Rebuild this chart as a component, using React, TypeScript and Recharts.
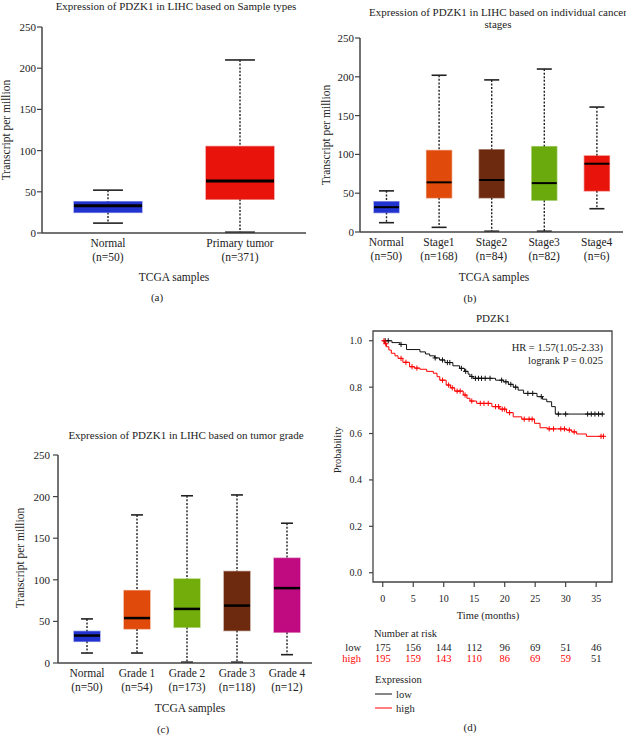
import React from "react";
import { BarChart, Bar, XAxis, YAxis, ComposedChart, Line, Scatter, ReferenceArea } from "recharts";

const FONT = '"Liberation Serif", "DejaVu Serif", serif';
const INK = "#222";

// (a) sample types
const typeCats = ["Normal", "Primary tumor"];
const typeN = [50, 371];
const typeMin = [12, 1];
const typeQ1 = [25, 41];
const typeMed = [33, 63];
const typeQ3 = [38, 105];
const typeMax = [52, 210];
const typeColors = ["#2233cf", "#e8140c"];

// (b) cancer stages
const stageCats = ["Normal", "Stage1", "Stage2", "Stage3", "Stage4"];
const stageN = [50, 168, 84, 82, 6];
const stageMin = [12, 6, 1, 1, 30];
const stageQ1 = [25, 44, 44, 41, 53];
const stageMed = [32, 64, 67, 63, 88];
const stageQ3 = [39, 105, 106, 110, 98];
const stageMax = [53, 202, 196, 210, 161];
const stageColors = ["#2233cf", "#e04a0a", "#6e2a0e", "#6aaa0c", "#e8140c"];

// (c) tumor grade
const gradeCats = ["Normal", "Grade 1", "Grade 2", "Grade 3", "Grade 4"];
const gradeN = [50, 54, 173, 118, 12];
const gradeMin = [12, 12, 1, 1, 10];
const gradeQ1 = [26, 41, 43, 39, 37];
const gradeMed = [33, 54, 65, 69, 90];
const gradeQ3 = [38, 87, 101, 110, 126];
const gradeMax = [53, 178, 201, 202, 168];
const gradeColors = ["#2233cf", "#e04a0a", "#72ad0c", "#6e2a0e", "#c00a80"];

const tpmTicks = [0, 50, 100, 150, 200, 250];

// (d) Kaplan-Meier, PDZK1
const lowTimes = [0, 1.5, 2.8, 3.9, 6.1, 7.0, 7.7, 8.5, 9.3, 10.2, 11.5, 12.6, 13.4, 14.0, 14.3, 14.8, 18.5, 19.8, 20.6, 21.4, 22.2, 23.1, 25.3, 26.2, 26.9, 27.7, 28.3, 36.2];
const lowSurv = [1.0, 0.992, 0.984, 0.962, 0.952, 0.943, 0.935, 0.926, 0.917, 0.906, 0.892, 0.881, 0.868, 0.856, 0.846, 0.838, 0.83, 0.823, 0.812, 0.8, 0.787, 0.773, 0.759, 0.748, 0.737, 0.716, 0.684, 0.684];
const highTimes = [0, 0.3, 0.6, 1.0, 1.4, 2.0, 2.5, 3.3, 4.4, 5.2, 6.1, 7.2, 8.3, 8.9, 9.35, 10.4, 11.1, 11.8, 13.2, 13.8, 14.3, 15.4, 17.9, 19.2, 20.3, 21.4, 22.8, 24.9, 25.8, 27.0, 30.1, 31.0, 31.8, 33.4, 36.3];
const highSurv = [1.0, 0.987, 0.974, 0.96, 0.946, 0.935, 0.924, 0.907, 0.888, 0.882, 0.877, 0.868, 0.86, 0.845, 0.83, 0.809, 0.797, 0.783, 0.766, 0.752, 0.74, 0.73, 0.716, 0.705, 0.69, 0.672, 0.662, 0.644, 0.625, 0.62, 0.615, 0.607, 0.598, 0.588, 0.588];
const lowCensor = [0.4, 0.9, 3.0, 8.6, 9.8, 10.6, 11.0, 12.9, 13.6, 14.6, 15.2, 15.7, 16.2, 16.8, 17.6, 19.5, 20.2, 21.0, 21.8, 23.8, 24.6, 26.0, 28.8, 30.0, 33.6, 34.2, 34.8, 35.4, 36.0];
const highCensor = [0.2, 0.5, 3.0, 3.8, 4.8, 5.6, 9.8, 10.8, 11.4, 12.2, 12.7, 13.5, 14.6, 16.0, 16.6, 17.3, 18.5, 19.0, 19.6, 20.0, 20.8, 23.2, 24.0, 24.5, 27.3, 28.0, 29.2, 29.8, 30.6, 31.4, 35.8, 36.2];
const timeTicks = [0, 5, 10, 15, 20, 25, 30, 35];
const probTicks = [0, 0.2, 0.4, 0.6, 0.8, 1.0];
const riskLow = [175, 156, 144, 112, 96, 69, 51, 46];
const riskHigh = [195, 159, 143, 110, 86, 69, 59, 51];

const survAt = (times: number[], surv: number[], t: number) => {
  let s = surv[0];
  for (let i = 0; i < times.length; i++) if (times[i] <= t) s = surv[i];
  return s;
};

const lowData = lowTimes.map((t, i) => ({ t, s: lowSurv[i] }));
const highData = highTimes.map((t, i) => ({ t, s: highSurv[i] }));
const lowCens = lowCensor.map((t) => ({ t, s: survAt(lowTimes, lowSurv, t) }));
const highCens = highCensor.map((t) => ({ t, s: survAt(highTimes, highSurv, t) }));

const BoxShape = (props: any) => {
  const { x, y, width, height, payload, colors, cats, capRatio, medW } = props;
  if (!payload) return null;
  const top = Math.min(y, y + height);
  const bot = Math.max(y, y + height);
  const span = payload.max - payload.min;
  const px = (v: number) => bot - ((v - payload.min) / span) * (bot - top);
  const cx = x + width / 2;
  const cap = (width * capRatio) / 2;
  const color = colors[cats.indexOf(payload.cat)];
  return (
    <g>
      <line x1={cx} x2={cx} y1={px(payload.max)} y2={px(payload.q3)} stroke={INK} strokeWidth={1.4} strokeDasharray="2 1.6" />
      <line x1={cx} x2={cx} y1={px(payload.q1)} y2={px(payload.min)} stroke={INK} strokeWidth={1.4} strokeDasharray="2 1.6" />
      <line x1={cx - cap} x2={cx + cap} y1={px(payload.max)} y2={px(payload.max)} stroke={INK} strokeWidth={1.6} />
      <line x1={cx - cap} x2={cx + cap} y1={px(payload.min)} y2={px(payload.min)} stroke={INK} strokeWidth={1.6} />
      <rect x={x} y={px(payload.q3)} width={width} height={px(payload.q1) - px(payload.q3)} fill={color} stroke={color} strokeOpacity={0.5} strokeWidth={1.4} />
      <line x1={x} x2={x + width} y1={px(payload.med)} y2={px(payload.med)} stroke="#000" strokeWidth={medW} />
    </g>
  );
};

const CatTick = (props: any) => {
  const { x, payload, ns, cats, base } = props;
  const n = ns[cats.indexOf(payload.value)];
  return (
    <g>
      <text x={x} y={base + 14} textAnchor="middle" fontFamily={FONT} fontSize={11.5} fill={INK}>{payload.value}</text>
      <text x={x} y={base + 28} textAnchor="middle" fontFamily={FONT} fontSize={11.5} fill={INK}>(n={n})</text>
    </g>
  );
};

function BoxPanel(p: any) {
  const rows = p.cats.map((c: string, i: number) => ({
    cat: c,
    range: [p.mins[i], p.maxs[i]],
    min: p.mins[i],
    q1: p.q1s[i],
    med: p.meds[i],
    q3: p.q3s[i],
    max: p.maxs[i],
  }));
  return (
    <div style={{ position: "absolute", left: 0, top: 0 }}>
      <BarChart width={626} height={735} data={rows} margin={p.margin}>
        <XAxis
          dataKey="cat"
          height={p.xHeight}
          tickLine={false}
          axisLine={{ stroke: "#444", strokeWidth: 1.5 }}
          padding={p.padding}
          interval={0}
          tick={(t: any) => <CatTick {...t} ns={p.ns} cats={p.cats} base={p.base} />}
        />
        <YAxis
          width={30}
          domain={[0, 250]}
          ticks={tpmTicks}
          interval={0}
          tickSize={5}
          tickMargin={p.tickMargin}
          axisLine={{ stroke: "#444", strokeWidth: 1.5 }}
          tickLine={{ stroke: "#444", strokeWidth: 1.2 }}
          tick={{ fontSize: 11, fontFamily: FONT, fill: INK }}
        />
        <Bar
          dataKey="range"
          barSize={p.barSize}
          isAnimationActive={false}
          shape={(s: any) => <BoxShape {...s} colors={p.colors} cats={p.cats} capRatio={p.capRatio} medW={p.medW} />}
        />
      </BarChart>
    </div>
  );
}

const Plus = (props: any) => {
  const { cx, cy, color } = props;
  if (cx == null || cy == null) return null;
  return <path d={`M${cx - 2.6},${cy}h5.2M${cx},${cy - 2.6}v5.2`} stroke={color} strokeWidth={1} fill="none" />;
};

const TimeTick = (props: any) => {
  const { x, payload } = props;
  const i = timeTicks.indexOf(payload.value);
  return (
    <g fontFamily={FONT} textAnchor="middle">
      <text x={x} y={601.5} fontSize={10} fill={INK}>{payload.value}</text>
      <text x={x} y={651} fontSize={10.5} fill={INK}>{riskLow[i]}</text>
      <text x={x} y={662} fontSize={10.5} fill={i === timeTicks.length - 1 ? INK : "#ff0000"}>{riskHigh[i]}</text>
    </g>
  );
};

function KMPanel() {
  return (
    <div style={{ position: "absolute", left: 0, top: 0 }}>
      <ComposedChart width={626} height={735} margin={{ top: 331, right: 14, left: 333, bottom: 0 }}>
        <XAxis
          dataKey="t"
          type="number"
          domain={[-1.6, 37.6]}
          allowDataOverflow
          ticks={timeTicks}
          interval={0}
          height={153}
          axisLine={false}
          tickSize={5}
          tickLine={{ stroke: "#444", strokeWidth: 1.2 }}
          tick={(t: any) => <TimeTick {...t} />}
        />
        <YAxis
          dataKey="s"
          type="number"
          width={40}
          domain={[-0.04, 1.042]}
          allowDataOverflow
          ticks={probTicks}
          interval={0}
          axisLine={false}
          tickSize={4}
          tickMargin={7}
          tickLine={{ stroke: "#444", strokeWidth: 1.2 }}
          tickFormatter={(v: number) => v.toFixed(1)}
          tick={{ fontSize: 10, fontFamily: FONT, fill: INK }}
        />
        <ReferenceArea x1={-1.6} x2={37.6} y1={-0.04} y2={1.042} fill="none" stroke="#444" strokeWidth={1.3} />
        <Line data={lowData} dataKey="s" type="stepAfter" stroke="#111" strokeWidth={1} dot={false} isAnimationActive={false} />
        <Line data={highData} dataKey="s" type="stepAfter" stroke="#ff0000" strokeWidth={1} dot={false} isAnimationActive={false} />
        <Scatter data={lowCens} dataKey="s" isAnimationActive={false} shape={(s: any) => <Plus {...s} color="#111" />} />
        <Scatter data={highCens} dataKey="s" isAnimationActive={false} shape={(s: any) => <Plus {...s} color="#ff0000" />} />
      </ComposedChart>
    </div>
  );
}

function Labels() {
  const t = { fontFamily: FONT, fill: INK };
  return (
    <svg width={626} height={735} style={{ position: "absolute", left: 0, top: 0, pointerEvents: "none" }}>
      {/* (a) */}
      <text {...t} x={176} y={10} fontSize={11} textAnchor="middle">Expression of PDZK1 in LIHC based on Sample types</text>
      <text {...t} x={10} y={130} fontSize={11.5} textAnchor="middle" transform="rotate(-90 10 130)">Transcript per million</text>
      <text {...t} x={174} y={281} fontSize={11.5} textAnchor="middle">TCGA samples</text>
      <text {...t} x={157} y={301} fontSize={11} textAnchor="middle">(a)</text>
      {/* (b) */}
      <text {...t} x={498} y={15.5} fontSize={11} textAnchor="middle">Expression of PDZK1 in LIHC based on individual cancer</text>
      <text {...t} x={498} y={28} fontSize={11} textAnchor="middle">stages</text>
      <text {...t} x={330} y={135} fontSize={11.5} textAnchor="middle" transform="rotate(-90 330 135)">Transcript per million</text>
      <text {...t} x={494} y={281} fontSize={11.5} textAnchor="middle">TCGA samples</text>
      <text {...t} x={470} y={302} fontSize={11} textAnchor="middle">(b)</text>
      {/* (c) */}
      <text {...t} x={186} y={439} fontSize={11} textAnchor="middle">Expression of PDZK1 in LIHC based on tumor grade</text>
      <text {...t} x={24} y={558} fontSize={11.5} textAnchor="middle" transform="rotate(-90 24 558)">Transcript per million</text>
      <text {...t} x={190} y={712} fontSize={11.5} textAnchor="middle">TCGA samples</text>
      <text {...t} x={163} y={733} fontSize={11} textAnchor="middle">(c)</text>
      {/* (d) */}
      <text {...t} x={493} y={322} fontSize={11} textAnchor="middle">PDZK1</text>
      <text {...t} x={603} y={350.5} fontSize={10.5} textAnchor="end">HR = 1.57(1.05-2.33)</text>
      <text {...t} x={603} y={364} fontSize={10.5} textAnchor="end">logrank P = 0.025</text>
      <text {...t} x={341} y={450} fontSize={10.5} textAnchor="middle" transform="rotate(-90 341 450)">Probability</text>
      <text {...t} x={488} y={619} fontSize={10.5} textAnchor="middle">Time (months)</text>
      <text {...t} x={374} y={636.5} fontSize={10.5}>Number at risk</text>
      <text {...t} x={361} y={651} fontSize={10.5} textAnchor="end">low</text>
      <text {...t} x={361} y={662} fontSize={10.5} textAnchor="end" fill="#ff0000">high</text>
      <text {...t} x={375} y={683} fontSize={10.5}>Expression</text>
      <line x1={375} x2={392} y1={694} y2={694} stroke="#111" strokeWidth={1} />
      <text {...t} x={396} y={698} fontSize={10.5}>low</text>
      <line x1={375} x2={392} y1={708} y2={708} stroke="#ff0000" strokeWidth={1} />
      <text {...t} x={396} y={712} fontSize={10.5}>high</text>
      <text {...t} x={470} y={731} fontSize={11} textAnchor="middle">(d)</text>
    </svg>
  );
}

export default function App() {
  return (
    <div style={{ position: "absolute", left: 0, top: 0, width: 626, height: 735, background: "#fff", overflow: "hidden" }}>
      <BoxPanel
        cats={typeCats} ns={typeN} mins={typeMin} q1s={typeQ1} meds={typeMed} q3s={typeQ3} maxs={typeMax} colors={typeColors}
        margin={{ top: 27, right: 320, left: 12, bottom: 0 }} xHeight={502} base={233} barSize={68} capRatio={0.44} medW={3}
        tickMargin={1} padding={{ left: 0, right: 0 }}
      />
      <BoxPanel
        cats={stageCats} ns={stageN} mins={stageMin} q1s={stageQ1} meds={stageMed} q3s={stageQ3} maxs={stageMax} colors={stageColors}
        margin={{ top: 38, right: 3, left: 330, bottom: 0 }} xHeight={503} base={232} barSize={25} capRatio={0.6} medW={2}
        tickMargin={1} padding={{ left: 0, right: 0 }}
      />
      <BoxPanel
        cats={gradeCats} ns={gradeN} mins={gradeMin} q1s={gradeQ1} meds={gradeMed} q3s={gradeQ3} maxs={gradeMax} colors={gradeColors}
        margin={{ top: 455, right: 314, left: 28, bottom: 0 }} xHeight={72} base={663} barSize={26} capRatio={0.46} medW={2.5}
        tickMargin={3} padding={{ left: 4, right: 0 }}
      />
      <KMPanel />
      <Labels />
    </div>
  );
}
